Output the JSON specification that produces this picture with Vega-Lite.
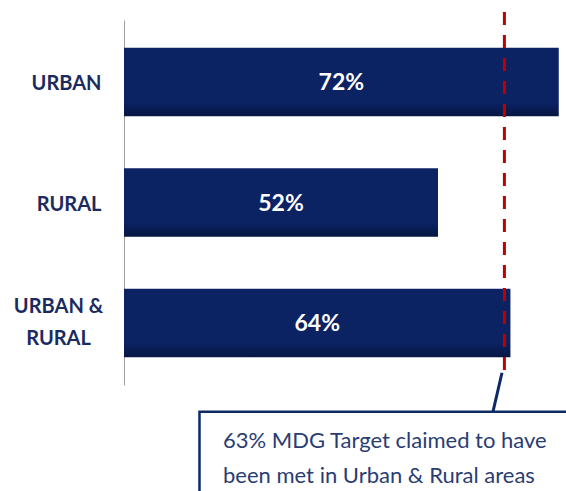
{
  "$schema": "https://vega.github.io/schema/vega-lite/v6.json",
  "width": 442,
  "height": 471,
  "autosize": "none",
  "padding": {"left": 124, "top": 20, "right": 0, "bottom": 0},
  "background": "white",
  "config": {"view": {"stroke": null}},
  "layer": [
    {
      "data": {"values": [
        {"area": "URBAN", "value": 72},
        {"area": "RURAL", "value": 52},
        {"area": "URBAN & RURAL", "value": 64}
      ]},
      "transform": [
        {"calculate": "datum.value / 2", "as": "mid"},
        {"calculate": "datum.value + '%'", "as": "label"}
      ],
      "encoding": {
        "y": {
          "field": "area", "type": "nominal", "sort": null,
          "scale": {"range": [0, 365], "paddingInner": 0.43, "paddingOuter": 0.23},
          "axis": {
            "title": null, "ticks": false, "tickSize": 0, "grid": false,
            "domain": true, "domainColor": "#a0a0a0", "domainWidth": 1,
            "labelFont": "Lato", "labelFontWeight": "bold", "labelFontSize": 20,
            "labelColor": "#1b2b5f", "labelLimit": 300,
            "labelAlign": {"condition": {"test": "datum.value === 'URBAN & RURAL'", "value": "center"}, "value": "right"},
            "labelPadding": {"condition": {"test": "datum.value === 'URBAN & RURAL'", "value": 66}, "value": 23},
            "labelOffset": {"condition": {"test": "datum.value === 'URBAN & RURAL'", "value": -16}, "value": 2},
            "labelExpr": "datum.value === 'URBAN & RURAL' ? ['URBAN &', 'RURAL'] : datum.value",
            "labelLineHeight": 32
          }
        }
      },
      "layer": [
        {
          "mark": {"type": "bar", "color": {"gradient": "linear", "x1": 0, "x2": 0, "y1": 0, "y2": 1,
            "stops": [{"offset": 0, "color": "#0b2263"}, {"offset": 0.8, "color": "#0b2263"}, {"offset": 1, "color": "#051640"}]}},
          "encoding": {
            "x": {"field": "value", "type": "quantitative", "scale": {"domain": [0, 73.2], "nice": false}, "axis": null}
          }
        },
        {
          "mark": {"type": "text", "color": "white", "font": "Lato", "fontWeight": "bold", "fontSize": 23, "align": "center", "baseline": "middle", "dy": 1},
          "encoding": {
            "x": {"field": "mid", "type": "quantitative", "scale": {"domain": [0, 73.2], "nice": false}, "axis": null},
            "text": {"field": "label"}
          }
        }
      ]
    },
    {
      "layer": [
        {
          "data": {"values": [{"target": 63, "top": -1.7, "bottom": 75.6}]},
          "mark": {"type": "rule", "color": "#c00000", "strokeWidth": 3, "strokeDash": [13, 10]},
          "encoding": {
            "x": {"field": "target", "type": "quantitative", "scale": {"domain": [0, 73.2], "nice": false}, "axis": null},
            "y": {"field": "top", "type": "quantitative", "scale": {"domain": [0, 100], "nice": false, "reverse": true, "zero": false}, "axis": null},
            "y2": {"field": "bottom"}
          }
        },
        {
          "data": {"values": [{"x0": 12.5, "x1": 80, "y0": 83.2, "y1": 110}]},
          "mark": {"type": "rect", "fill": "white", "stroke": "#0e2a66", "strokeWidth": 2.5, "clip": true},
          "encoding": {
            "x": {"field": "x0", "type": "quantitative", "scale": {"domain": [0, 73.2], "nice": false}, "axis": null},
            "x2": {"field": "x1"},
            "y": {"field": "y0", "type": "quantitative", "scale": {"domain": [0, 100], "nice": false, "reverse": true, "zero": false}, "axis": null},
            "y2": {"field": "y1"}
          }
        },
        {
          "data": {"values": [{"x0": 62.6, "y0": 74.9, "x1": 61.1, "y1": 83.2}]},
          "mark": {"type": "rule", "color": "#0e2a66", "strokeWidth": 3},
          "encoding": {
            "x": {"field": "x0", "type": "quantitative", "scale": {"domain": [0, 73.2], "nice": false}, "axis": null},
            "x2": {"field": "x1"},
            "y": {"field": "y0", "type": "quantitative", "scale": {"domain": [0, 100], "nice": false, "reverse": true, "zero": false}, "axis": null},
            "y2": {"field": "y1"}
          }
        },
        {
          "data": {"values": [{"x": 16.4, "y": 89.4}]},
          "mark": {"type": "text", "text": ["63% MDG Target claimed to have", "been met in Urban & Rural areas"],
            "font": "Lato", "fontSize": 22, "color": "#2a3d73", "align": "left", "baseline": "middle", "lineHeight": 35},
          "encoding": {
            "x": {"field": "x", "type": "quantitative", "scale": {"domain": [0, 73.2], "nice": false}, "axis": null},
            "y": {"field": "y", "type": "quantitative", "scale": {"domain": [0, 100], "nice": false, "reverse": true, "zero": false}, "axis": null}
          }
        }
      ]
    }
  ],
  "resolve": {"scale": {"y": "independent"}}
}
